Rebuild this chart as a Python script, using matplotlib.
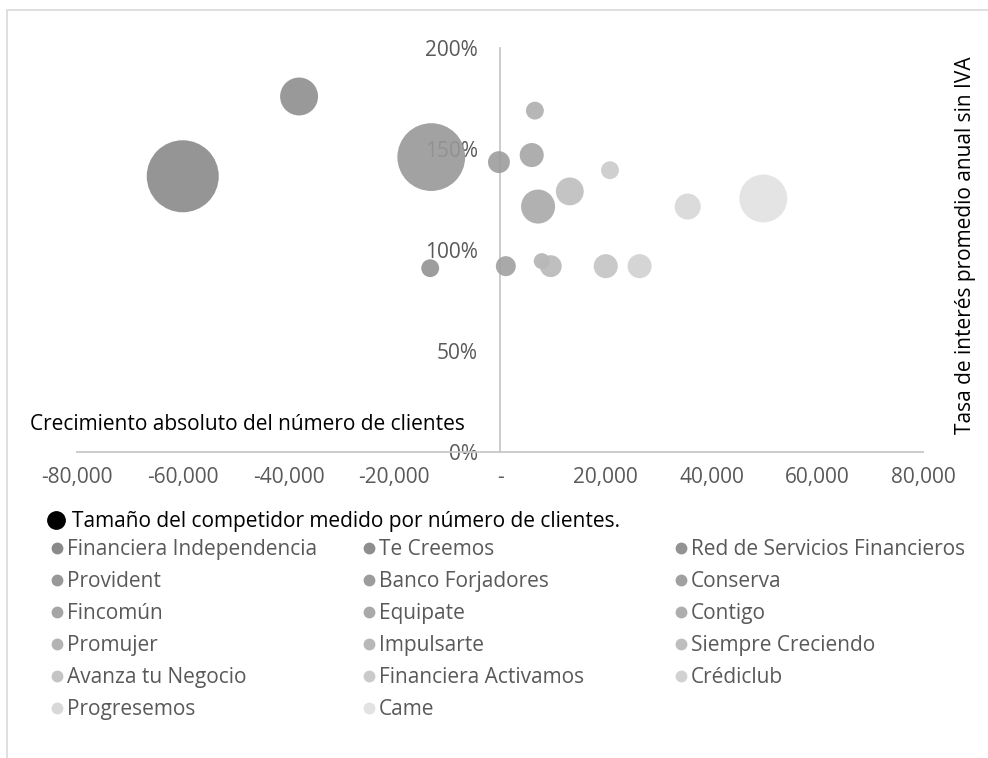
import numpy as np
import matplotlib.pyplot as plt
from matplotlib.lines import Line2D
from matplotlib.patches import Rectangle
from matplotlib.ticker import FuncFormatter, PercentFormatter

plt.rcParams['font.family'] = ['Open Sans', 'DejaVu Sans']

# data
empresas = ["Financiera Independencia", "Te Creemos", "Red de Servicios Financieros",
            "Provident", "Banco Forjadores", "Conserva", "Fincomún", "Equipate",
            "Contigo", "Promujer", "Impulsarte", "Siempre Creciendo",
            "Avanza tu Negocio", "Financiera Activamos", "Crédiclub",
            "Progresemos", "Came"]
crecimiento = [-60000, -38000, -13200, -13000, -200, 1100, 6000, 7200,
               6600, 7900, 9600, 13200, 20000, 20800, 26400, 35500, 49800]
tasa = [136.5, 176, 91, 146, 143.5, 92, 147, 121.5,
        169, 94.5, 92, 129, 92, 139.5, 92, 121.5, 125.5]
clientes = [1300000, 360000, 80000, 1150000, 120000, 100000, 145000, 290000,
            80000, 64000, 120000, 195000, 145000, 80000, 145000, 170000, 575000]

colores = ["#8a8a8a", "#8e8e8e", "#939393", "#989898", "#9c9c9c", "#a0a0a0",
           "#a5a5a5", "#a9a9a9", "#aeaeae", "#b3b3b3", "#b8b8b8", "#bebebe",
           "#c4c4c4", "#cacaca", "#d1d1d1", "#d8d8d8", "#e2e2e2"]

FS = 15
W, H = 988, 758
fig = plt.figure(figsize=(W / 100, H / 100), dpi=100)

# chart area border
fig.patches.append(Rectangle((7 / W, -0.1), 1.2, 1.1 - 10 / H, transform=fig.transFigure,
                             fill=False, edgecolor="#d9d9d9", linewidth=1.2))

ax = fig.add_axes([77 / W, 1 - 452 / H, 846 / W, 404 / H])
ax.set_xlim(-80000, 80000)
ax.set_ylim(0, 200)

for i, nombre in enumerate(empresas):
    ax.scatter(crecimiento[i], tasa[i], s=clientes[i] * 2.07 / 1000,
               color=colores[i], alpha=0.9, edgecolors="none", zorder=3)

for s in ["top", "right"]:
    ax.spines[s].set_visible(False)
ax.spines["left"].set_position(("data", 0))
ax.spines["bottom"].set_position(("data", 0))
for s in ["left", "bottom"]:
    ax.spines[s].set_color("#c8c8c8")
    ax.spines[s].set_linewidth(1.3)

ax.set_xticks(np.arange(-80000, 80001, 20000))
ax.set_yticks([0, 50, 100, 150, 200])
ax.xaxis.set_major_formatter(FuncFormatter(lambda v, p: "-" if v == 0 else f"{v:,.0f}"))
ax.yaxis.set_major_formatter(PercentFormatter(decimals=0))
ax.tick_params(axis="both", length=0, labelcolor="#595959", labelsize=FS)
ax.tick_params(axis="x", pad=11)
ax.tick_params(axis="y", pad=16)

fig.text(30 / W, 1 - 425 / H, "Crecimiento absoluto del número de clientes",
         fontsize=FS, color="black", ha="left", va="center")
fig.text(965 / W, 1 - 245 / H, "Tasa de interés promedio anual sin IVA",
         fontsize=FS, color="black", rotation=90, ha="center", va="center")

# legend: header + three columns filled row by row
cab = [Line2D([], [], marker="o", linestyle="none", color="black", markersize=12.5)]
fig.legend(cab, ["Tamaño del competidor medido por número de clientes."],
           loc="center left", bbox_to_anchor=(45.6 / W, 1 - 522 / H), frameon=False,
           fontsize=FS, handletextpad=0.25, handlelength=1.0, borderpad=0,
           borderaxespad=0)

col_x = [48.7, 360.7, 672.7]
for c in range(3):
    idx = list(range(c, len(empresas), 3))
    hs = [Line2D([], [], marker="o", linestyle="none", color=colores[i], markersize=7.5)
          for i in idx]
    fig.legend(hs, [empresas[i] for i in idx], loc="upper left",
               bbox_to_anchor=(col_x[c] / W, 1 - 539 / H), frameon=False,
               fontsize=FS, handletextpad=0.08, handlelength=0.8,
               labelspacing=0.53, borderpad=0, borderaxespad=0,
               labelcolor="#595959")

fig.savefig("out.png", dpi=100)
